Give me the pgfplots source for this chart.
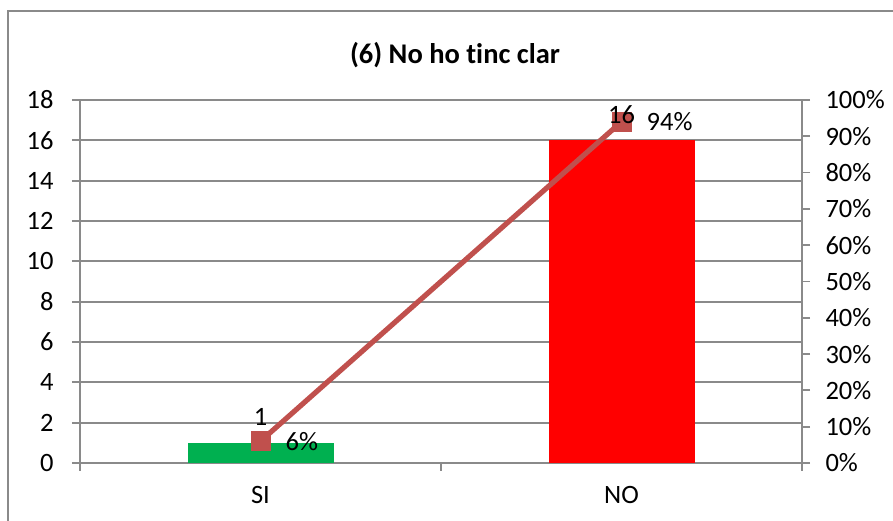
\documentclass[border=0pt]{standalone}
\usepackage{pgfplots}
\pgfplotsset{compat=1.18}
\usepackage{fontspec}
\setmainfont{Carlito}[Ligatures={NoCommon}]
\definecolor{axgray}{HTML}{8A8A8A}
\definecolor{barGreen}{HTML}{00B050}
\definecolor{barRed}{HTML}{FF0000}
\definecolor{lineRed}{HTML}{C0504D}
\newcommand{\tf}{\fontsize{26.5}{30}\selectfont}
\begin{document}
\begin{tikzpicture}[x=1pt,y=1pt]
\useasboundingbox (0,0) rectangle (893,521);
\draw[axgray, line width=1.5pt] (8,-20) -- (8,510) -- (920,510);
\node[font=\fontsize{28.5}{32}\selectfont\bfseries] at (455,466) {(6) No ho tinc clar};
\begin{axis}[
  at={(80pt,58pt)}, anchor=south west,
  width=722pt, height=363pt, scale only axis,
  xmin=-0.5, xmax=1.5, ymin=0, ymax=18,
  axis lines*=left,
  axis line style={axgray, line width=1.8pt},
  ytick={0,2,...,18},
  ymajorgrids, grid style={axgray, line width=1.8pt},
  xtick={-0.5,0.5,1.5}, xticklabels={},
  extra x ticks={0,1}, extra x tick labels={SI,NO},
  extra x tick style={major tick length=0pt},
  xticklabel style={yshift=-20pt},
  yticklabel style={xshift=-15pt},
  tick align=outside, major tick length=8pt,
  tick style={axgray, line width=1.8pt},
  tick label style={font=\tf},
  /pgf/number format/assume math mode=true,
  ybar, bar width=146pt,
]
\addplot[fill=barGreen, draw=none, bar shift=0pt] coordinates {(0,1)};
\addplot[fill=barRed, draw=none, bar shift=0pt] coordinates {(1,16)};
\end{axis}
\begin{axis}[
  at={(80pt,58pt)}, anchor=south west,
  width=722pt, height=363pt, scale only axis,
  xmin=-0.5, xmax=1.5, ymin=0, ymax=100,
  axis y line*=right, axis x line=none,
  axis line style={axgray, line width=1.8pt},
  ytick={0,10,...,100},
  yticklabel={\pgfmathprintnumber{\tick}\%},
  yticklabel style={xshift=12pt},
  tick align=outside, major tick length=8pt,
  tick style={axgray, line width=1.8pt},
  tick label style={font=\tf},
  /pgf/number format/assume math mode=true,
  clip=false,
]
\addplot[lineRed, line width=5.2pt, mark=square*, mark size=9.5pt, mark options={solid, line width=0pt}] coordinates {(0,6) (1,94)};
\addplot[draw=none, mark=none, nodes near coords, point meta=explicit symbolic,
  every node near coord/.append style={anchor=west, inner sep=0pt, xshift=25pt, yshift=0pt, font=\tf, text=black}]
  coordinates {(0,6)[6\%] (1,94)[94\%]};
\addplot[draw=none, mark=none, nodes near coords, point meta=explicit symbolic,
  every node near coord/.append style={anchor=center, inner sep=0pt, yshift=26pt, font=\tf, text=black}]
  coordinates {(0,5.5556)[1] (1,88.889)[16]};
\end{axis}
\end{tikzpicture}
\end{document}
